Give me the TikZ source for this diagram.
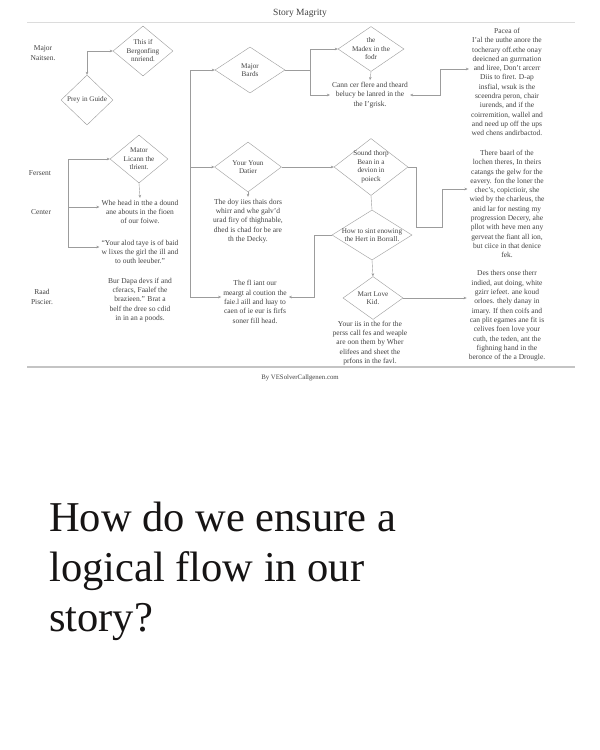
\documentclass[tikz,border=0pt]{standalone}
\usepackage{fontspec}
\setmainfont{Liberation Serif}
\usetikzlibrary{arrows.meta, shapes.geometric}
\definecolor{inkgray}{HTML}{424242}
\definecolor{wiregray}{HTML}{9C9C9C}
\definecolor{rulegray}{HTML}{C4C4C4}
\definecolor{headblack}{HTML}{161414}
\newcommand{\diagfont}{\fontsize{7.5}{9.3}\selectfont}
\newcommand{\diamfont}{\fontsize{7.2}{8.5}\selectfont}

\begin{document}
\begin{tikzpicture}[x=1pt, y=-1pt,
    decision/.style={draw=wiregray, line width=0.4pt, diamond, shape aspect=1.3,
                     inner sep=-2.5pt, align=center, font=\diamfont, text=inkgray},
    note/.style={align=center, inner sep=2pt, font=\diagfont, text=inkgray},
    wire/.style={wiregray, line width=0.4pt},
    arr/.style={wire, -{Stealth[length=3pt, width=2.6pt]}},
    both/.style={wire, {Stealth[length=3pt, width=2.6pt]}-{Stealth[length=3pt, width=2.6pt]}}
  ]
    \useasboundingbox[fill=white] (0,0) rectangle (600,750);

    % header, rules, credit
    \node[font=\fontsize{9.5}{11}\selectfont, text=inkgray] (title) at (300,13) {Story Magrity};
    \draw[rulegray!60, line width=0.6pt] (27,22) -- (575,22);
    \draw[rulegray, line width=1.2pt] (27,367) -- (575,367);
    \node[font=\fontsize{6.8}{8}\selectfont, text=inkgray] (credit) at (300,378) {By VESolverCallgenen.com};

    % row labels
    \node[note] (lmajor) at (43,53) {Major\\Naitsen.};
    \node[note] (lfersent) at (40,173) {Fersent};
    \node[note] (lcenter) at (41,212) {Center};
    \node[note] (lraad) at (42,297) {Raad\\Piscier.};

    % left column
    \node[decision, minimum width=60, minimum height=50] (this) at (143,51) {This if\\Bergonfing\\nnriend.};
    \node[decision, minimum width=52, minimum height=50] (prey) at (87,100) {Prey in Guide};
    \node[decision, minimum width=58, minimum height=48] (mator) at (139,159) {Mator\\Licann the\\tlrient.};
    \node[note] (whe) at (140,212) {Whe head in tthe a dound\\ane abouts in the fioen\\of our foiwe.};
    \node[note] (alod) at (140,252) {``Your alod taye is of baid\\w lixes the girl the ill and\\to outh leeuber.''};
    \node[note] (bur) at (140,300) {Bur Dapa devs if and\\cferacs, Faalef the\\brazieen.'' Brat a\\belf the dree so cdid\\in in an a poods.};

    % middle column
    \node[decision, minimum width=70, minimum height=46] (bards) at (250,70) {Major\\Bards};
    \node[decision, minimum width=67, minimum height=50] (datier) at (248,167) {Your Youn\\Datier};
    \node[note] (doy) at (248,221) {The doy iies thais dors\\whirr and whe galv'd\\urad firy of thighnable,\\dhed is chad for be are\\th the Decky.};
    \node[note] (fliant) at (255,302) {The fl iant our\\meargt al coution the\\faie.l aill and luay to\\caen of ie eur is firfs\\soner fill head.};

    % third column
    \node[decision, minimum width=66, minimum height=45] (madex) at (371,49) {the\\Madex in the\\fodr};
    \node[note] (cann) at (370,95) {Cann cer flere and theard\\belucy be lanred in the\\the I'grisk.};
    \node[decision, minimum width=74, minimum height=57] (sound) at (371,167) {Sound thorp\\Bean in a\\devion in\\poieck};
    \node[decision, minimum width=80, minimum height=50, shape aspect=1.6] (howto) at (372,235) {How to sint enowing\\the Hert in Borrall.};
    \node[decision, minimum width=60, minimum height=43] (mart) at (373,298) {Mart Love\\Kid.};
    \node[note] (perss) at (370,343) {Your iis in the for the\\perss call fes and weaple\\are oon them by Wher\\elifees and sheet the\\prfons in the favl.};

    % right column
    \node[note] (pacca) at (507,82) {Pacea of\\I'al the uuthe anore the\\tocherary off.ethe onay\\deeicned an gurrnation\\and liree, Don't arcerr\\Diis to firet. D-ap\\insfial, wsuk is the\\sceendra peron, chair\\iurends, and if the\\coirremition, wallel and\\and need up off the ups\\wed chens andirbactod.};
    \node[note] (baarl) at (507,204) {There baarl of the\\lochen theres, In theirs\\catangs the gelw for the\\eavery. fon the loner the\\chec's, copictioir, she\\wied by the charleus, the\\anid lar for nesting my\\progression Decery, ahe\\pllot with heve men any\\gerveat the fiant all ion,\\but ciice in that denice\\fek.};
    \node[note] (thers) at (507,316) {Des thers onse therr\\indied, aut doing, white\\gzirr iefeet. ane koud\\orloes. thely danay in\\imary. If then coifs and\\can plit egames ane fit is\\celives foen love your\\cuth, the teden, ant the\\fighning hand in the\\beronce of the a Drougle.};

    % connectors, left
    \draw[both] (this.west) -| (prey.north);
    \coordinate (lsplit) at (68,207);
    \coordinate (lfoot) at (68,247);
    \draw[arr] (lsplit) |- (mator.west);
    \draw[arr] (lsplit) -- (lsplit -| whe.west);
    \draw[arr] (lsplit) -- (lfoot) -- (lfoot -| alod.west);
    \draw[arr] (mator.south) -- (whe.north);

    % trunk into the middle column
    \coordinate (trunk) at (190,297);
    \draw[wire] (trunk |- bards.west) -- (trunk);
    \draw[arr] (trunk |- bards.west) -- (bards.west);
    \draw[arr] (trunk |- datier.west) -- (datier.west);
    \draw[arr] (trunk) -- (trunk -| fliant.west);
    \draw[arr] (datier.south) -- (doy.north);

    % fork after the bards
    \coordinate (bfork) at (310,70);
    \draw[wire] (bards.east) -- (bfork);
    \draw[arr] (bfork) |- (madex.west);
    \draw[arr] (bfork) |- (cann.west);
    \draw[arr] (madex.south) -- (cann.north);
    \coordinate (cbend) at (440,69);
    \draw[both] (cann.east) -| (cbend) -- (cbend -| pacca.west);

    % lower chain
    \draw[arr] (datier.east) -- (sound.west);
    \draw[wire] (sound.south) -- (howto.north);
    \coordinate (sbend) at (416,227);
    \coordinate (sjog) at (442,189);
    \draw[arr] (sound.east) -| (sbend) -| (sjog) -- (sjog -| baarl.west);
    \draw[arr] (howto.south) -- (mart.north);
    \coordinate (hbend) at (314,297);
    \draw[arr] (howto.west) -| (hbend) -- (hbend -| fliant.east);
    \draw[arr] (mart.east) -- (mart.east -| thers.west);

    % question below
    \node[anchor=north west, inner sep=0pt, align=left, text=headblack,
          font=\fontsize{42.5}{50}\selectfont] (question) at (49,502)
          {How do we ensure a\\logical flow in our\\story?};
  \end{tikzpicture}
\end{document}
